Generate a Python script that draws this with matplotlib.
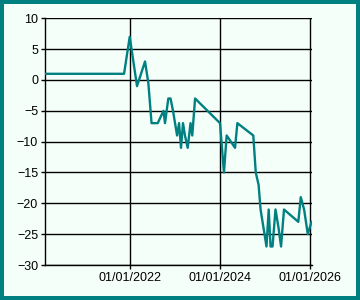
import matplotlib
matplotlib.use("Agg")
import matplotlib.pyplot as plt
import matplotlib.dates as mdates
from matplotlib.patches import Rectangle
import pandas as pd

dates = ["2020-02-14", "2021-11-16", "2022-01-01", "2022-03-01", "2022-05-05",
         "2022-06-01", "2022-06-27", "2022-08-16", "2022-10-02", "2022-10-14",
         "2022-11-10", "2022-11-28", "2022-12-18", "2023-01-20", "2023-02-05",
         "2023-02-21", "2023-03-09", "2023-03-25", "2023-04-16", "2023-05-09",
         "2023-05-23", "2023-06-15", "2024-01-03", "2024-02-04", "2024-02-26",
         "2024-05-04", "2024-05-23", "2024-09-29", "2024-10-19", "2024-11-11",
         "2024-11-27", "2025-01-14", "2025-02-01", "2025-02-16", "2025-03-04",
         "2025-03-28", "2025-04-22", "2025-05-12", "2025-06-05", "2025-09-29",
         "2025-10-19", "2025-11-15", "2025-12-15", "2026-01-14"]
values = [1, 1, 7, -1, 3,
          -0.5, -7, -7, -5, -7,
          -3, -3, -5, -9, -7,
          -11, -7, -9, -11, -7,
          -9, -3, -7, -15, -9,
          -11, -7, -9, -15, -17,
          -21, -27, -21, -27, -27,
          -21, -24, -27, -21, -23,
          -19, -21, -25, -23]
y_ticks = [-30, -25, -20, -15, -10, -5, 0, 5, 10]
x_ticks = ["2022-01-01", "2024-01-01", "2026-01-01"]

x = pd.to_datetime(dates)
teal = "#008080"
bg = "#F5FFFA"

fig = plt.figure(figsize=(3.6, 3.0), dpi=100)
fig.patch.set_facecolor(bg)
fig.patches.append(Rectangle((2/360, 2.5/300), 1 - 4.5/360, 1 - 4.5/300,
                             transform=fig.transFigure, fill=False,
                             edgecolor=teal, linewidth=4*72/100, zorder=10))

ax = fig.add_axes([45/360, 1 - 265/300, 266.5/360, (265 - 18.3)/300])
ax.set_facecolor(bg)
ax.plot(x, values, color=teal, linewidth=1.7, zorder=3)

ax.set_xlim(x[0], x[-1])
ax.set_ylim(-30, 10)
ax.set_yticks(y_ticks)
ax.set_xticks(pd.to_datetime(x_ticks))
ax.xaxis.set_major_formatter(mdates.DateFormatter("%d/%m/%Y"))

ax.grid(True, color="black", linewidth=1.0)
for s in ["top", "right"]:
    ax.spines[s].set_visible(False)
for s in ["left", "bottom"]:
    ax.spines[s].set_color("black")
    ax.spines[s].set_linewidth(1.0)

ax.tick_params(axis="y", length=3, width=1.0, pad=2, labelsize=9, colors="black")
ax.tick_params(axis="x", length=3, width=1.0, pad=2, labelsize=9, colors="black")
for lab in ax.get_xticklabels() + ax.get_yticklabels():
    lab.set_fontfamily("Liberation Sans")

fig.savefig("out.png", dpi=100, facecolor=bg)
